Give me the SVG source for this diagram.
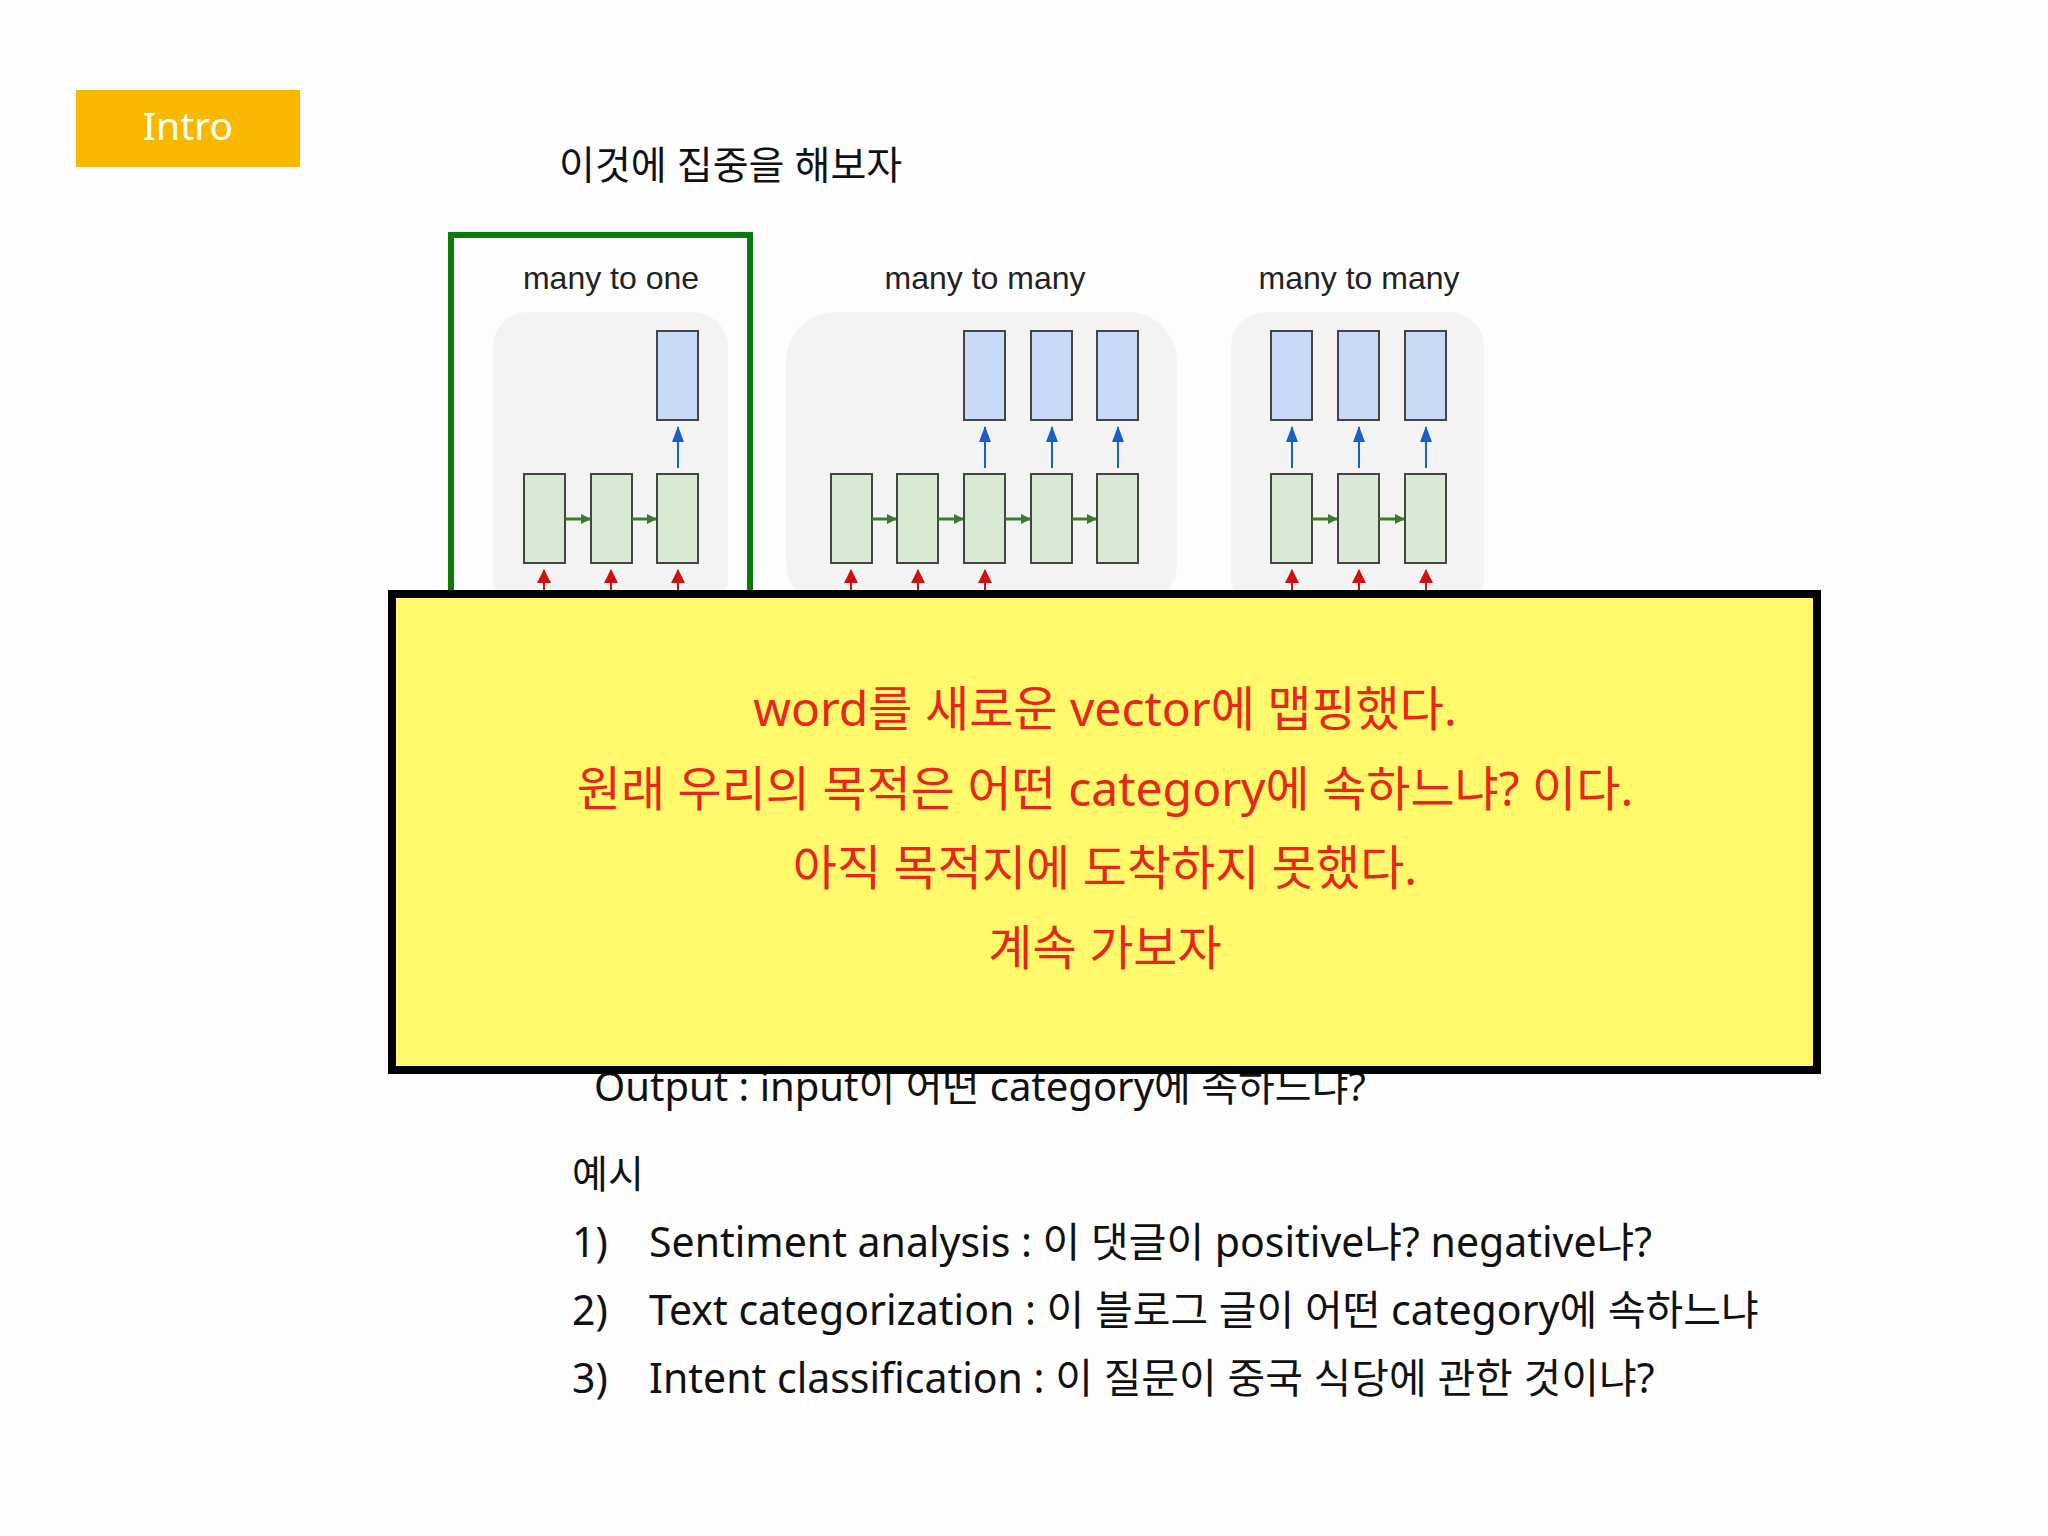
<svg xmlns="http://www.w3.org/2000/svg" width="2048" height="1536" viewBox="0 0 2048 1536">
<style>
.t{font-family:"Noto Sans","Noto Sans CJK KR",sans-serif;fill:#111}
.lab{font-family:"Liberation Sans",Arial,sans-serif;font-size:32px;fill:#222;text-anchor:middle}
.g{fill:#d9ead3;stroke:#444;stroke-width:2}
.b{fill:#c9daf8;stroke:#444;stroke-width:2}
.panel{fill:#f3f3f3}
.y{font-family:"Noto Sans","Noto Sans CJK KR",sans-serif;font-size:48px;fill:#e8261c;text-anchor:middle}
</style>
<defs>
<marker id="ag" markerWidth="10" markerHeight="10" refX="9" refY="5" orient="auto" markerUnits="userSpaceOnUse"><path d="M0,0 L10,5 L0,10 z" fill="#3f7a2a"/></marker>
<marker id="ar" markerWidth="14" markerHeight="14" refX="13" refY="7" orient="auto" markerUnits="userSpaceOnUse"><path d="M0,0 L14,7 L0,14 z" fill="#d01010"/></marker>
<marker id="ab2" markerWidth="16" markerHeight="12" refX="15" refY="6" orient="auto" markerUnits="userSpaceOnUse"><path d="M0,0 L16,6 L0,12 z" fill="#1a5fc8"/></marker>
</defs>
<rect width="2048" height="1536" fill="#fdfdfd"/>
<g id="intro"><rect x="76" y="90" width="224" height="77" fill="#f9b800"/><text x="188" y="140" text-anchor="middle" font-family="Noto Sans,sans-serif" font-size="39" fill="#fff">Intro</text></g>
<g id="title"><text class="t" x="559" y="179" font-size="39">이것에 집중을 해보자</text></g>
<g id="panels">
<rect class="panel" x="493" y="312" width="235" height="300" rx="35"/>
<rect class="panel" x="786" y="312" width="391" height="300" rx="50"/>
<rect class="panel" x="1231" y="312" width="253" height="300" rx="35"/>
<text class="lab" x="611" y="289">many to one</text>
<text class="lab" x="985" y="289">many to many</text>
<text class="lab" x="1359" y="289">many to many</text>
</g>
<g id="cells">
<rect class="b" x="657" y="331" width="41" height="89"/>
<rect class="b" x="964" y="331" width="41" height="89"/><rect class="b" x="1031" y="331" width="41" height="89"/><rect class="b" x="1097" y="331" width="41" height="89"/>
<rect class="b" x="1271" y="331" width="41" height="89"/><rect class="b" x="1338" y="331" width="41" height="89"/><rect class="b" x="1405" y="331" width="41" height="89"/>
<rect class="g" x="524" y="474" width="41" height="89"/><rect class="g" x="591" y="474" width="41" height="89"/><rect class="g" x="657" y="474" width="41" height="89"/>
<rect class="g" x="831" y="474" width="41" height="89"/><rect class="g" x="897" y="474" width="41" height="89"/><rect class="g" x="964" y="474" width="41" height="89"/><rect class="g" x="1031" y="474" width="41" height="89"/><rect class="g" x="1097" y="474" width="41" height="89"/>
<rect class="g" x="1271" y="474" width="41" height="89"/><rect class="g" x="1338" y="474" width="41" height="89"/><rect class="g" x="1405" y="474" width="41" height="89"/>
</g>
<g id="connectors" stroke-width="2" fill="none">
<g stroke="#1a5fc8" marker-end="url(#ab2)">
<path d="M678,468V427"/><path d="M985,468V427"/><path d="M1052,468V427"/><path d="M1118,468V427"/><path d="M1292,468V427"/><path d="M1359,468V427"/><path d="M1426,468V427"/>
</g>
<g stroke="#3f7a2a" stroke-width="3" marker-end="url(#ag)">
<path d="M565,519H590"/><path d="M632,519H656"/>
<path d="M872,519H896"/><path d="M938,519H963"/><path d="M1005,519H1030"/><path d="M1072,519H1096"/>
<path d="M1312,519H1337"/><path d="M1379,519H1404"/>
</g>
<g stroke="#d01010" marker-end="url(#ar)">
<path d="M544,600V570"/><path d="M611,600V570"/><path d="M678,600V570"/>
<path d="M851,600V570"/><path d="M918,600V570"/><path d="M985,600V570"/>
<path d="M1292,600V570"/><path d="M1359,600V570"/><path d="M1426,600V570"/>
</g>
</g>
<g id="sel"><rect x="451" y="235" width="299" height="370" fill="none" stroke="#0a7a0a" stroke-width="6"/></g>
<g id="body">
<text class="t" x="594" y="1101" font-size="40">Output : input이 어떤 category에 속하느냐?</text>
<text class="t" x="572" y="1188" font-size="39">예시</text>
<text class="t" x="572" y="1257" font-size="41">1)</text><text class="t" x="649" y="1257" font-size="41">Sentiment analysis : 이 댓글이 positive냐? negative냐?</text>
<text class="t" x="572" y="1325" font-size="41">2)</text><text class="t" x="649" y="1325" font-size="41">Text categorization : 이 블로그 글이 어떤 category에 속하느냐</text>
<text class="t" x="572" y="1393" font-size="41">3)</text><text class="t" x="649" y="1393" font-size="41">Intent classification : 이 질문이 중국 식당에 관한 것이냐?</text>
</g>
<g id="note">
<rect x="392" y="594" width="1425" height="476" fill="#fff96b" stroke="#000" stroke-width="8"/>
<text class="y" x="1105" y="726">word를 새로운 vector에 맵핑했다.</text>
<text class="y" x="1105" y="806">원래 우리의 목적은 어떤 category에 속하느냐? 이다.</text>
<text class="y" x="1105" y="885">아직 목적지에 도착하지 못했다.</text>
<text class="y" x="1105" y="965">계속 가보자</text>
</g>
</svg>
